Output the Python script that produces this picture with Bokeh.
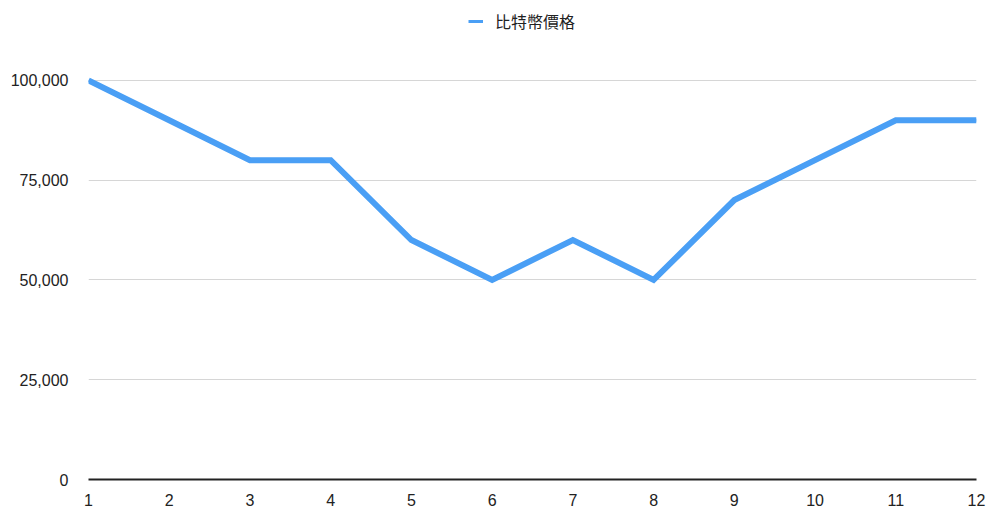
from bokeh.embed import file_html
from bokeh.models import FixedTicker, Legend, LegendItem, NumeralTickFormatter, Range1d
from bokeh.plotting import figure
from bokeh.resources import INLINE

# data
months = [1, 2, 3, 4, 5, 6, 7, 8, 9, 10, 11, 12]
price = [100000, 90000, 80000, 80000, 60000, 50000, 60000, 50000, 70000, 80000, 90000, 90000]
y_ticks = [0, 25000, 50000, 75000, 100000]
series_name = "比特幣價格"

p = figure(width=992, height=508, output_backend="svg", toolbar_location=None,
           x_range=Range1d(1, 12), y_range=Range1d(0, 118000),
           min_border_left=88, min_border_right=16, min_border_top=8, min_border_bottom=28)
p.outline_line_color = None
p.background_fill_color = "white"

# thinner stroke just for the legend swatch, hidden under the main line
swatch = p.line(months, price, line_color="#4a9ff5", line_width=3)
line = p.line(months, price, line_color="#4a9ff5", line_width=6, line_join="miter")

# axes
p.xaxis.ticker = FixedTicker(ticks=months)
p.xaxis.major_tick_line_color = None
p.xaxis.minor_tick_line_color = None
p.xaxis.axis_line_color = "#222222"
p.xaxis.axis_line_width = 2
p.xaxis.major_label_standoff = 8
p.xaxis.major_label_text_font = "Liberation Sans"
p.xaxis.major_label_text_font_size = "16px"
p.xaxis.major_label_text_color = "#222222"

p.yaxis.ticker = FixedTicker(ticks=y_ticks)
p.yaxis.formatter = NumeralTickFormatter(format="0,0")
p.yaxis.axis_line_color = None
p.yaxis.major_tick_line_color = None
p.yaxis.minor_tick_line_color = None
p.yaxis.major_label_standoff = 14
p.yaxis.major_label_text_font = "Liberation Sans"
p.yaxis.major_label_text_font_size = "16px"
p.yaxis.major_label_text_color = "#222222"

p.xgrid.grid_line_color = None
p.ygrid.ticker = FixedTicker(ticks=y_ticks[1:])
p.ygrid.grid_line_color = "#d6d6d6"
p.ygrid.grid_line_width = 1

legend = Legend(items=[LegendItem(label=series_name, renderers=[swatch])],
                location=(380, 446), orientation="horizontal",
                border_line_color=None, background_fill_alpha=0,
                label_text_font="Noto Sans CJK TC", label_text_font_size="16px",
                label_text_color="#222222", glyph_width=15, glyph_height=10,
                label_standoff=12, padding=0, margin=0)
p.add_layout(legend)

open("out.html", "w").write(file_html(p, INLINE))
